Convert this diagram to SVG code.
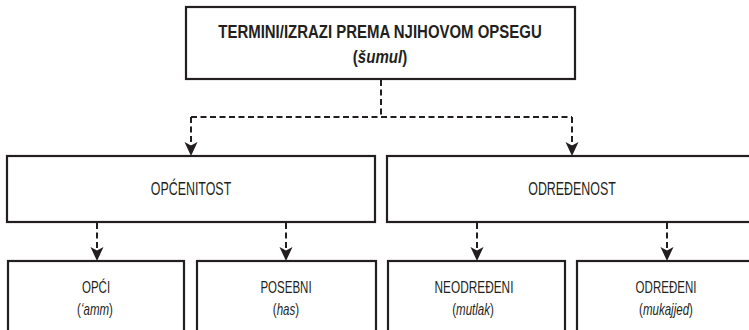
<svg xmlns="http://www.w3.org/2000/svg" width="749" height="330" viewBox="0 0 749 330">
<style>
  .box { fill: #ffffff; stroke: #231f20; stroke-width: 2.2; }
  .t { font-family: "Liberation Sans", Arial, sans-serif; fill: #231f20; text-anchor: middle; }
  .title { font-size: 17.5px; font-weight: bold; }
  .mid { font-size: 17.5px; }
  .low { font-size: 16px; }
  .i { font-style: italic; }
  .dash { fill: none; stroke: #231f20; stroke-width: 2; stroke-dasharray: 6 3.5; }
</style>
<defs>
  <marker id="arr" markerUnits="userSpaceOnUse" markerWidth="16" markerHeight="14" refX="11" refY="6.5" orient="auto">
    <path d="M0,0 L14,6.5 L0,13 L3.5,6.5 Z" fill="#231f20"/>
  </marker>
</defs>
<rect width="749" height="330" fill="#ffffff"/>

<g id="connectors">
  <path class="dash" d="M381,80 V117"/>
  <path class="dash" d="M191,117 H572"/>
  <path class="dash" d="M191,117 V153" marker-end="url(#arr)"/>
  <path class="dash" d="M572,117 V153" marker-end="url(#arr)"/>
  <path class="dash" d="M97,223 V258" marker-end="url(#arr)"/>
  <path class="dash" d="M286,223 V258" marker-end="url(#arr)"/>
  <path class="dash" d="M477,223 V258" marker-end="url(#arr)"/>
  <path class="dash" d="M667,223 V258" marker-end="url(#arr)"/>
</g>

<g id="node-root">
  <rect class="box" x="186" y="7" width="389" height="72"/>
  <text class="t title" transform="translate(380,38) scale(0.855,1)">TERMINI/IZRAZI PREMA NJIHOVOM OPSEGU</text>
  <text class="t title" transform="translate(380,63) scale(0.86,1)">(<tspan class="i">šumul</tspan>)</text>
</g>

<g id="node-opcenitost">
  <rect class="box" x="7" y="156" width="368" height="66"/>
  <text class="t mid" transform="translate(191,195) scale(0.71,1)">OPĆENITOST</text>
</g>

<g id="node-odredenost">
  <rect class="box" x="387" y="156" width="372" height="66"/>
  <text class="t mid" transform="translate(572,195) scale(0.71,1)">ODREĐENOST</text>
</g>

<g id="node-opci">
  <rect class="box" x="8" y="261" width="176" height="90"/>
  <text class="t low" transform="translate(96,293) scale(0.72,1)">OPĆI</text>
  <text class="t low" transform="translate(95,315) scale(0.72,1)">(<tspan class="i">‘amm</tspan>)</text>
</g>

<g id="node-posebni">
  <rect class="box" x="197" y="261" width="179" height="90"/>
  <text class="t low" transform="translate(286,293) scale(0.72,1)">POSEBNI</text>
  <text class="t low" transform="translate(286,315) scale(0.72,1)">(<tspan class="i">has</tspan>)</text>
</g>

<g id="node-neodredeni">
  <rect class="box" x="388" y="261" width="177" height="90"/>
  <text class="t low" transform="translate(474,293) scale(0.74,1)">NEODREĐENI</text>
  <text class="t low" transform="translate(473,315) scale(0.72,1)">(<tspan class="i">mutlak</tspan>)</text>
</g>

<g id="node-odredeni">
  <rect class="box" x="577" y="261" width="182" height="90"/>
  <text class="t low" transform="translate(666,293) scale(0.72,1)">ODREĐENI</text>
  <text class="t low" transform="translate(666,315) scale(0.72,1)">(<tspan class="i">mukajjed</tspan>)</text>
</g>
</svg>
